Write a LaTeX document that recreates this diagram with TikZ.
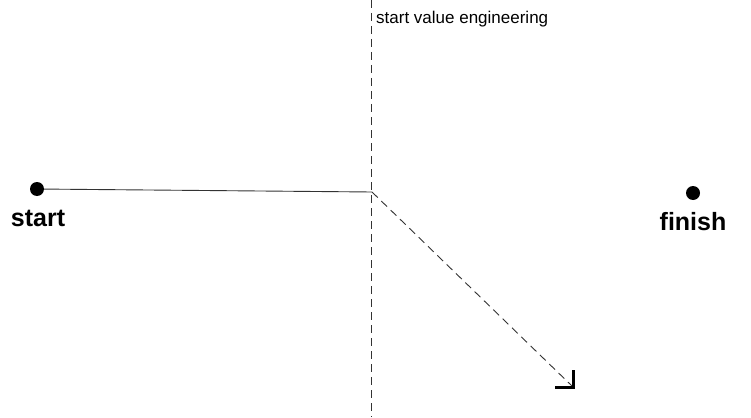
\documentclass[tikz,border=0pt]{standalone}
\usepackage{fontspec}
\setmainfont{Liberation Sans}
\begin{document}
\begin{tikzpicture}[x=1pt,y=-1pt,
  dot/.style={circle,fill=black,inner sep=0pt,minimum size=14pt},
  biglabel/.style={font=\fontsize{25}{28}\selectfont\bfseries,inner sep=0pt},
  thinline/.style={line width=0.9pt,black!80},
  dashline/.style={line width=0.9pt,black!80,dash pattern=on 8pt off 5pt}]
\useasboundingbox (0,0) rectangle (751,417);
\node[dot] (s) at (37,189) {};
\node[biglabel] (sl) at (38,218) {start};
\node[dot] (f) at (693,193) {};
\node[biglabel] (fl) at (693,222) {finish};
\coordinate (top) at (371,0);
\coordinate (bot) at (371,417);
\coordinate (mid) at (372,192);
\coordinate (tip) at (573,387);
\draw[dashline] (top) -- (bot);
\node[anchor=base west,font=\fontsize{17}{20}\selectfont,inner sep=0pt] (lab) at (376,24) {start value engineering};
\draw[thinline] (s) -- (mid);
\draw[dashline] (mid) -- (tip);
\draw[line width=3pt,miter limit=10] ([xshift=-18pt]tip) -- (tip) -- ([yshift=17pt]tip);
\end{tikzpicture}
\end{document}
